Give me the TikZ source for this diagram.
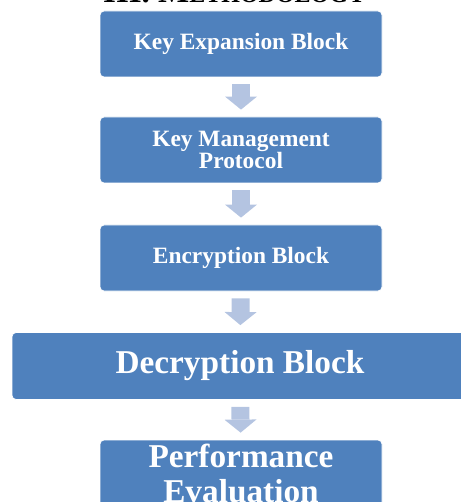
\documentclass[tikz,border=0pt]{standalone}
\usepackage{fontspec}
\setmainfont{Liberation Serif}
\usetikzlibrary{arrows.meta}
\definecolor{boxblue}{RGB}{79,129,189}
\definecolor{arrowblue}{RGB}{180,196,225}
\tikzset{
 blockbox/.style={rectangle, rounded corners=4pt, fill=boxblue, draw=white, line width=0.8pt,
  text=white, align=center, inner sep=0pt, minimum width=282pt, minimum height=66pt,
  font=\bfseries\fontsize{23.4}{21}\selectfont},
 bigbox/.style={blockbox, font=\bfseries\fontsize{33.3}{35}\selectfont},
 fatarrow/.style={draw=arrowblue, line width=18pt, shorten <=7pt, shorten >=7pt,
  -{Triangle[width=32pt,length=13pt,line width=0pt,fill=arrowblue]}}
}
\begin{document}
\begin{tikzpicture}[x=1pt,y=1pt]

 \useasboundingbox (0,0) rectangle (460,-502);

 \node[anchor=base west, inner sep=0pt, font=\bfseries] (head) at (103,-3)
  {{\fontsize{33}{33}\selectfont III. M}{\fontsize{24}{24}\selectfont ETHODOLOGY}};

 \node[blockbox] (kexp) at (241,-44) {Key Expansion Block};

 \node[blockbox] (kman) at (241,-150) {Key Management\\Protocol};

 \node[blockbox] (enc) at (241,-258) {Encryption Block};

 \node[bigbox, minimum width=456pt, minimum height=67pt] (dec) at (240,-366) {Decryption Block};

 \node[bigbox] (perf) at (241,-473) {Performance\\Evaluation};

 \draw[fatarrow] (kexp) -- (kman);
 \draw[fatarrow] (kman) -- (enc);
 \draw[fatarrow] (enc) -- (dec);
 \draw[fatarrow] (dec) -- (perf);

\end{tikzpicture}
\end{document}
